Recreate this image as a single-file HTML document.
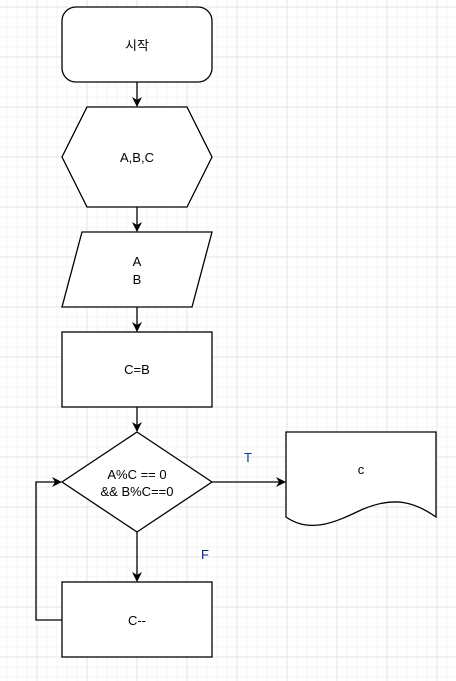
<!DOCTYPE html>
<html><head><meta charset="utf-8"><style>
html,body{margin:0;padding:0;background:#fff;}
svg{display:block;}
text{font-family:"Liberation Sans","Noto Sans CJK KR",sans-serif;font-size:13px;fill:#000;text-anchor:middle;}
</style></head><body>
<svg width="456" height="681" viewBox="0 0 456 681" xmlns="http://www.w3.org/2000/svg">
<defs>
<pattern id="mi" width="10" height="10" patternUnits="userSpaceOnUse" x="6.5" y="6.5">
<path d="M0 0.5H10M0.5 0V10" stroke="#f4f4f4" stroke-width="1" fill="none"/>
</pattern>
<pattern id="ma" width="50" height="50" patternUnits="userSpaceOnUse" x="36.5" y="6.5">
<path d="M0 0.5H50M0.5 0V50" stroke="#e6e6e6" stroke-width="1" fill="none"/>
</pattern>
<marker id="ar" markerWidth="10" markerHeight="10" refX="9" refY="5" orient="auto" markerUnits="userSpaceOnUse">
<path d="M0 0L10 5L0 10L3 5Z" fill="#000"/>
</marker>
</defs>
<rect width="456" height="681" fill="url(#mi)"/>
<rect width="456" height="681" fill="url(#ma)"/>
<g stroke="#000" stroke-width="1.3" fill="#fff">
<rect x="62" y="7" width="150" height="75" rx="14"/>
<polygon points="62,157 87,107 187,107 212,157 187,207 87,207"/>
<polygon points="82,232 212,232 192,307 62,307"/>
<rect x="62" y="332" width="150" height="75"/>
<polygon points="137,432 212,482 137,532 62,482"/>
<path d="M286 432H436V517C416 503 395 495 361 510C336 522 310 534 286 517Z"/>
<rect x="62" y="582" width="150" height="75"/>
</g>
<g stroke="#000" stroke-width="1.3" fill="none">
<path d="M137 82V106" marker-end="url(#ar)"/>
<path d="M137 207V231" marker-end="url(#ar)"/>
<path d="M137 307V331" marker-end="url(#ar)"/>
<path d="M137 407V431" marker-end="url(#ar)"/>
<path d="M212 482H285" marker-end="url(#ar)"/>
<path d="M137 532V581" marker-end="url(#ar)"/>
<path d="M62 620H36V482H61" marker-end="url(#ar)"/>
</g>
<text x="137" y="50">시작</text>
<text x="137" y="162">A,B,C</text>
<text x="137" y="266">A</text>
<text x="137" y="284">B</text>
<text x="137" y="374">C=B</text>
<text x="137" y="479">A%C == 0</text>
<text x="137" y="496">&amp;&amp; B%C==0</text>
<text x="361" y="474">c</text>
<text x="137" y="625">C--</text>
<text x="248" y="462" style="fill:#0a3d91">T</text>
<text x="205" y="559" style="fill:#0a1f7a">F</text>
</svg>
</body></html>
